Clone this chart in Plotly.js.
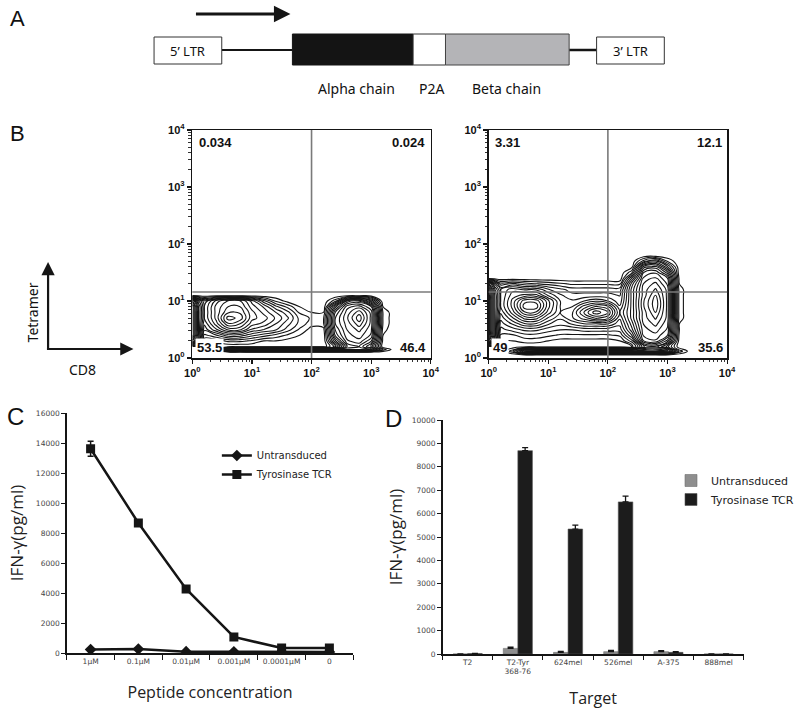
<!DOCTYPE html>
<html><head><meta charset="utf-8">
<script src="https://cdn.plot.ly/plotly-3.0.1.min.js"></script>
<style>html,body{margin:0;padding:0;background:#fff}#chart{width:800px;height:711px}</style>
</head><body><div id="chart"></div>
<script>
// ---------- Panel B: flow cytometry contour data (grid in log10 decades, density levels)
const flowXdec = [0,0.1,0.2,0.4,0.6,0.8,1.0,1.2,1.4,1.6,1.8,2.0,2.2,2.4,2.6,2.8,3.0,3.2,3.4];
const untransYdec = [0,0.1,0.15,0.2,0.3,0.4,0.5,0.6,0.7,0.8,0.9,1.0,1.1,1.2];
const untransDensity = [
  [0,0,0,0,0,0,0,0,0,0,0,0,0,0,0,0,0,0,0],
  [0,0,0,0,0,0,0,0,0,0,0,0,0,0,0,0,0,0,0],
  [0,0,0,1,10,13,14,14,14,14,14,14,14,14,14,14,13,3,0],
  [0,0,0,0,0,0,0,0,0,0,0,0,0,4,12,13,9,0,0],
  [16,10,1.5,1.5,2.5,2.5,2,1,1,0.5,0,0,0,8,14,15,12,0.5,0],
  [20,12,3,4.5,6.5,6.5,5,4,3,2,1,0,0,11,15,16,14,1,0],
  [20,12,5,8,11,11,8,7,6,4,2,0.5,0.5,12,15.5,17,14.5,1.5,0],
  [20,12,6,10,14,13,10,9,7,5,3,1.5,2,13,16,18.5,15,2,0],
  [20,12,7,11,16,15,11,10,8,6,3,2,2,13,16.5,19.8,15,2,0],
  [20,12,7,11,14,14,11,9,7,5,2,1,1,12,16,18.5,15,2,0],
  [20,12,7,11,13,13,10,8,5,3,1,0,0,9,15,16,13,1,0],
  [16,10,6,10,12,12,9,5,2,0.5,0,0,0,3,11,12,7,0,0],
  [0,0,0,0,0,0,0,0,0,0,0,0,0,0,0,0,0,0,0],
  [0,0,0,0,0,0,0,0,0,0,0,0,0,0,0,0,0,0,0]
];
const tcrYdec = [0,0.05,0.12,0.2,0.3,0.4,0.5,0.6,0.7,0.8,0.9,1.0,1.1,1.2,1.3,1.4,1.5,1.6,1.7,1.8,1.9];
const tcrDensity = [
  [0,0,0,0,0,0,0,0,0,0,0,0,0,0,0,0,0,0,0],
  [0,0,0,0,0,0,0,0,0,0,0,0,0,0,0,0,0,0,0],
  [0,0,0,3,13,14,14,14,14,14,14,14,14,14,14,14,13,3,0],
  [0,0,0,0,0,0,0,0,0,0,0,0,0,1,8,9,5,0,0],
  [16,10,1,1,1.5,1.5,1,0.5,0.5,0.5,0.5,0.5,1,4,13,14,10,0.3,0],
  [20,12,2,2,3,3,2.5,2,2,2,2,2,2.5,7,14.5,15,13,0.5,0],
  [20,12,3,4,5,5,4,3.5,3.5,4,4,4,4,9,15,16,14,1,0],
  [20,12,4,6,8,8,6,5,6,7,7,7,5,10,15.5,17,14.5,1,0],
  [20,12,5,8,11,11,8,6,8,10,12,11,6,11,16,18,15,1.5,0],
  [20,12,6,10,14,14,10,7,8,12,15,13,7,11,16,19,15,1.5,0],
  [20,12,7,11,16,16,11,7,7,10,12,11,6,11,16.5,19.8,15,1.5,0],
  [20,12,7,11,15,15,11,7,6,7,8,7,5,11,16.5,19.8,15,1.5,0],
  [20,12,7,10,11,11,8,6,5,5,5,5,4.5,11,16,19,15,1.5,0],
  [18,11,7,9,8,8,6,5,4,4,4,4,4,11,16,18,15,1.5,0],
  [14,8,4,5,4,3.5,3,2.5,2,2,2,2,2,10,15.5,17,14,1,0],
  [0,0,0,0,0,0,0,0,0,0,0,0,0,7,14.5,15.5,13,0.5,0],
  [0,0,0,0,0,0,0,0,0,0,0,0,0,3,13,14,10,0,0],
  [0,0,0,0,0,0,0,0,0,0,0,0,0,0.5,10,11,6,0,0],
  [0,0,0,0,0,0,0,0,0,0,0,0,0,0,4,6,2,0,0],
  [0,0,0,0,0,0,0,0,0,0,0,0,0,0,0,0,0,0,0],
  [0,0,0,0,0,0,0,0,0,0,0,0,0,0,0,0,0,0,0]
];
const quadUntrans = ['0.034','0.024','53.5','46.4'];
const quadTCR = ['3.31','12.1','49','35.6'];
const gateCD8 = 100;
const gateTet = 14.4;
const logTickVals = [1,10,100,1000,10000];
const logTickText = ['10<sup>0</sup>','10<sup>1</sup>','10<sup>2</sup>','10<sup>3</sup>','10<sup>4</sup>'];

// ---------- Panel C
const peptideConc = ['1μM','0.1μM','0.01μM','0.001μM','0.0001μM','0'];
const cUntrans = [230, 260, 90, 80, 70, 70];
const cUntransErr = [40, 40, 20, 20, 20, 20];
const cTCR = [13620, 8670, 4270, 1070, 330, 330];
const cTCRErr = [500, 200, 120, 80, 50, 50];

// ---------- Panel D
const targets = ['T2','T2-Tyr<br>368-76','624mel','526mel','A-375','888mel'];
const dUntrans = [0, 240, 70, 100, 100, 0];
const dUntransErr = [0, 50, 40, 50, 40, 0];
const dTCR = [20, 8690, 5340, 6500, 70, 0];
const dTCRErr = [10, 130, 170, 250, 30, 0];

// ---------- helpers (layout only)
const W = 800, H = 711;
const X = px => px / W;
const Y = py => 1 - py / H;
const ink = '#151515';

function flowAxis(dom, anchor) {
  return {type:'log', domain:dom, range:[0,4], anchor:anchor,
    tickmode:'array', tickvals:logTickVals, ticktext:logTickText,
    ticks:'outside', ticklen:4, tickwidth:1.2, tickcolor:ink,
    showline:true, mirror:true, linecolor:ink, linewidth:1.5,
    showgrid:false, zeroline:false,
    tickfont:{family:'Liberation Sans', size:11, color:'#111', weight:'bold'},
    minor:{ticks:'outside', ticklen:2.5, tickwidth:1, tickcolor:'#333', dtick:'D1', showgrid:false},
    fixedrange:true};
}
function contourTrace(z, ydec, xa, ya) {
  return {type:'contour', x: flowXdec.map(d => Math.pow(10, d)), y: ydec.map(d => Math.pow(10, d)), z: z,
    xaxis: xa, yaxis: ya, autocontour:false,
    contours:{coloring:'lines', start:1, end:19.6, size:1.2, showlabels:false},
    line:{width:1.1, smoothing:1.3}, colorscale:[[0, ink],[1, ink]], showscale:false,
    showlegend:false, hoverinfo:'skip'};
}

const traces = [
  contourTrace(untransDensity, untransYdec, 'x', 'y'),
  contourTrace(tcrDensity, tcrYdec, 'x2', 'y2'),
  {type:'scatter', mode:'lines+markers', name:'Untransduced', x:peptideConc, y:cUntrans,
    error_y:{type:'data', array:cUntransErr, color:ink, thickness:1.5, width:3},
    line:{color:ink, width:2.5}, marker:{symbol:'diamond', size:9, color:ink},
    xaxis:'x3', yaxis:'y3', legend:'legend'},
  {type:'scatter', mode:'lines+markers', name:'Tyrosinase TCR', x:peptideConc, y:cTCR,
    error_y:{type:'data', array:cTCRErr, color:ink, thickness:1.5, width:3},
    line:{color:ink, width:2.5}, marker:{symbol:'square', size:9, color:ink},
    xaxis:'x3', yaxis:'y3', legend:'legend'},
  {type:'bar', name:'Untransduced', x:targets, y:dUntrans,
    marker:{color:'#8e8e8e', line:{color:'#6e6e6e', width:0.6}},
    error_y:{type:'data', symmetric:false, array:dUntransErr, arrayminus:dUntransErr.map(() => 0), color:ink, thickness:1.3, width:3},
    xaxis:'x4', yaxis:'y4', legend:'legend2'},
  {type:'bar', name:'Tyrosinase TCR', x:targets, y:dTCR,
    marker:{color:'#1c1c1c', line:{color:'#555', width:0.6}},
    error_y:{type:'data', symmetric:false, array:dTCRErr, arrayminus:dTCRErr.map(() => 0), color:ink, thickness:1.3, width:3},
    xaxis:'x4', yaxis:'y4', legend:'legend2'}
];

const tickFontSmall = {family:'DejaVu Sans', size:7.5, color:'#444'};
const titleFont = {family:'Open Sans', size:16, color:'#222'};

// ---------- shapes
const shapes = [];
function rect(x0, y0, x1, y1, fill, lc, lw) {
  shapes.push({type:'rect', xref:'paper', yref:'paper', x0:X(x0), x1:X(x1), y0:Y(y1), y1:Y(y0),
    fillcolor:fill, line:{color:lc, width:lw}, layer:'above'});
}
function hline(x0, x1, y, w) {
  shapes.push({type:'line', xref:'paper', yref:'paper', x0:X(x0), x1:X(x1), y0:Y(y), y1:Y(y),
    line:{color:ink, width:w}});
}
// construct schematic (panel A)
hline(226, 298, 50, 2);
hline(580, 608, 50, 2.5);
rect(157, 37, 226, 64, '#fff', '#333', 1);
rect(298, 34, 421, 65, '#141414', '#141414', 1);
rect(421, 34, 454, 65, '#fff', '#333', 1);
rect(454, 34, 580, 65, '#b4b4b7', '#444', 1);
rect(608, 37, 677, 64, '#fff', '#333', 1);
// quadrant gates (panel B)
[['x','y'],['x2','y2']].forEach(([xa, ya]) => {
  shapes.push({type:'line', xref:xa, yref:ya + ' domain', x0:gateCD8, x1:gateCD8, y0:0, y1:1,
    line:{color:'#7a7a7a', width:1.6}});
  shapes.push({type:'line', xref:xa + ' domain', yref:ya, x0:0, x1:1, y0:gateTet, y1:gateTet,
    line:{color:'#7a7a7a', width:1.6}});
});

// ---------- annotations
const annotations = [];
function txt(x, y, text, size, opts) {
  annotations.push(Object.assign({xref:'paper', yref:'paper', x:X(x), y:Y(y), text:text, showarrow:false,
    font:{family:'Noto Sans', size:size, color:'#111'}, xanchor:'center', yanchor:'middle'}, opts || {}));
}
txt(18, 18, 'A', 22, {font:{family:'Liberation Sans', size:22, color:'#111'}});
txt(18, 133, 'B', 22, {font:{family:'Liberation Sans', size:22, color:'#111'}});
txt(16, 416, 'C', 24, {font:{family:'Liberation Sans', size:24, color:'#111'}});
txt(401, 419, 'D', 24, {font:{family:'Liberation Sans', size:24, color:'#111'}});
txt(191, 51, '5’ LTR', 13);
txt(643, 51, '3’ LTR', 13);
txt(363, 88, 'Alpha chain', 14);
txt(440, 88, 'P2A', 14);
txt(516, 88, 'Beta chain', 14);
txt(33, 312, 'Tetramer', 14, {textangle:-90});
txt(84, 369, 'CD8', 14);
// arrows
annotations.push({xref:'paper', yref:'paper', x:X(296), y:Y(14), ax:-96, ay:0, text:'', showarrow:true,
  arrowhead:2, arrowsize:1.1, arrowwidth:3, arrowcolor:ink});
annotations.push({xref:'paper', yref:'paper', x:X(49), y:Y(262), ax:0, ay:88, text:'', showarrow:true,
  arrowhead:2, arrowsize:1.2, arrowwidth:2.2, arrowcolor:ink});
annotations.push({xref:'paper', yref:'paper', x:X(136), y:Y(349), ax:-88, ay:0, text:'', showarrow:true,
  arrowhead:2, arrowsize:1.2, arrowwidth:2.2, arrowcolor:ink});
// quadrant percentages
function quad(labels, xa, ya) {
  const f = {family:'Liberation Sans', size:13, color:'#111', weight:'bold'};
  const base = {xref:xa + ' domain', yref:ya + ' domain', showarrow:false, font:f};
  annotations.push(Object.assign({}, base, {x:0.02, y:0.985, xanchor:'left', yanchor:'top', text:labels[0]}));
  annotations.push(Object.assign({}, base, {x:0.985, y:0.985, xanchor:'right', yanchor:'top', text:labels[1]}));
  annotations.push(Object.assign({}, base, {x:0.01, y:0.004, xanchor:'left', yanchor:'bottom', text:labels[2], bgcolor:'#fff', borderpad:1}));
  annotations.push(Object.assign({}, base, {x:0.99, y:0.004, xanchor:'right', yanchor:'bottom', text:labels[3], bgcolor:'#fff', borderpad:1}));
}
quad(quadUntrans, 'x', 'y');
quad(quadTCR, 'x2', 'y2');

const layout = {
  width: W, height: H, margin:{l:0, r:0, t:0, b:0},
  paper_bgcolor:'#fff', plot_bgcolor:'rgba(0,0,0,0)',
  showlegend:true, barmode:'group', bargap:0.42, bargroupgap:0,
  xaxis: flowAxis([X(196), X(439)], 'y'),
  yaxis: flowAxis([Y(358), Y(130)], 'x'),
  xaxis2: flowAxis([X(498), X(741)], 'y2'),
  yaxis2: flowAxis([Y(358), Y(130)], 'x2'),
  xaxis3: {domain:[X(68), X(360)], anchor:'y3', type:'category', range:[-0.5, 5.5],
    tickson:'boundaries', ticks:'outside', ticklen:5, tickcolor:ink, showline:true, linecolor:ink, linewidth:1.5,
    showgrid:false, zeroline:false, tickfont:tickFontSmall, tickangle:0,
    title:{text:'Peptide concentration', font:titleFont, standoff:22}},
  yaxis3: {domain:[Y(653), Y(413)], anchor:'x3', range:[0, 16000], dtick:2000, tickformat:'d', ticks:'outside', ticklen:4,
    tickcolor:ink, showline:true, linecolor:ink, linewidth:1.5, showgrid:false, zeroline:false,
    tickfont:tickFontSmall, title:{text:'IFN-γ(pg/ml)', font:{family:'Open Sans', size:17, color:'#222'}, standoff:8}},
  xaxis4: {domain:[X(451), X(758)], anchor:'y4', type:'category', range:[-0.5, 5.5],
    tickson:'boundaries', ticks:'outside', ticklen:4, tickcolor:ink, showline:true, linecolor:ink, linewidth:1.5,
    showgrid:false, zeroline:false, tickfont:tickFontSmall, tickangle:0,
    title:{text:'Target', font:titleFont, standoff:17}},
  yaxis4: {domain:[Y(654), Y(420)], anchor:'x4', range:[0, 10000], dtick:1000, tickformat:'d', ticks:'outside', ticklen:4,
    tickcolor:ink, showline:true, linecolor:ink, linewidth:1.5, showgrid:false, zeroline:false,
    tickfont:tickFontSmall, title:{text:'IFN-γ(pg/ml)', font:{family:'Open Sans', size:17, color:'#222'}, standoff:4}},
  legend: {x:X(221), y:Y(441), xanchor:'left', yanchor:'top', bgcolor:'rgba(0,0,0,0)',
    font:{family:'DejaVu Sans', size:10, color:'#222'}, tracegroupgap:0, itemwidth:30},
  legend2: {x:X(684), y:Y(466), xanchor:'left', yanchor:'top', bgcolor:'rgba(0,0,0,0)',
    font:{family:'DejaVu Sans', size:11, color:'#222'}, tracegroupgap:0, itemwidth:30},
  shapes: shapes,
  annotations: annotations
};

Plotly.newPlot('chart', traces, layout, {staticPlot:true, displayModeBar:false});
</script>
</body></html>
